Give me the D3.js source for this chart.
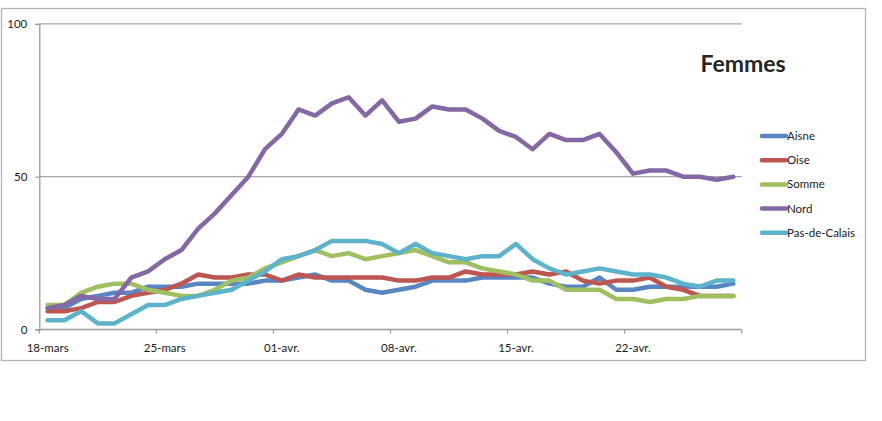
<!DOCTYPE html>
<html>
<head>
<meta charset="utf-8">
<script src="https://cdn.jsdelivr.net/npm/d3@7"></script>
<style>
  body { margin: 0; background: #fff; }
  text { font-family: Lato, "Open Sans", sans-serif; fill: #1a1a1a; }
</style>
</head>
<body>
<div id="chart"></div>
<script>
// categories (one per day)
const dates = [
  "18-mars", "19-mars", "20-mars", "21-mars", "22-mars", "23-mars", "24-mars",
  "25-mars", "26-mars", "27-mars", "28-mars", "29-mars", "30-mars", "31-mars",
  "01-avr.", "02-avr.", "03-avr.", "04-avr.", "05-avr.", "06-avr.", "07-avr.",
  "08-avr.", "09-avr.", "10-avr.", "11-avr.", "12-avr.", "13-avr.", "14-avr.",
  "15-avr.", "16-avr.", "17-avr.", "18-avr.", "19-avr.", "20-avr.", "21-avr.",
  "22-avr.", "23-avr.", "24-avr.", "25-avr.", "26-avr.", "27-avr.", "28-avr."
];

// series values
const aisne = [7, 7, 10, 11, 12, 12, 14, 14, 14, 15, 15, 15, 15, 16, 16, 17, 18, 16, 16, 13, 12,
  13, 14, 16, 16, 16, 17, 17, 17, 17, 15, 14, 14, 17, 13, 13, 14, 14, 14, 14, 14, 15];
const oise = [6, 6, 7, 9, 9, 11, 12, 13, 15, 18, 17, 17, 18, 18, 16, 18, 17, 17, 17, 17, 17,
  16, 16, 17, 17, 19, 18, 18, 18, 19, 18, 19, 16, 15, 16, 16, 17, 14, 13, 11, 11, 11];
const somme = [8, 8, 12, 14, 15, 15, 13, 12, 11, 11, 13, 16, 17, 20, 22, 24, 26, 24, 25, 23, 24,
  25, 26, 24, 22, 22, 20, 19, 18, 16, 16, 13, 13, 13, 10, 10, 9, 10, 10, 11, 11, 11];
const nord = [7, 8, 11, 10, 10, 17, 19, 23, 26, 33, 38, 44, 50, 59, 64, 72, 70, 74, 76, 70, 75,
  68, 69, 73, 72, 72, 69, 65, 63, 59, 64, 62, 62, 64, 58, 51, 52, 52, 50, 50, 49, 50];
const pasDeCalais = [3, 3, 6, 2, 2, 5, 8, 8, 10, 11, 12, 13, 16, 19, 23, 24, 26, 29, 29, 29, 28,
  25, 28, 25, 24, 23, 24, 24, 28, 23, 20, 18, 19, 20, 19, 18, 18, 17, 15, 14, 16, 16];

const seriesNames = ["Aisne", "Oise", "Somme", "Nord", "Pas-de-Calais"];
const yTicks = [0, 50, 100];
const title = "Femmes";

const colors = ["#5886c2", "#bd5550", "#a0bf60", "#8468a6", "#5cb3cb"];
const series = [aisne, oise, somme, nord, pasDeCalais].map((v, k) => ({
  name: seriesNames[k], values: v, color: colors[k]
}));

// layout
const width = 882, height = 421;
const plotLeft = 39.3, plotRight = 741.7, plotTop = 23.9, plotBottom = 329.5;

const svg = d3.select("#chart").append("svg")
  .attr("width", width)
  .attr("height", height);

// outer chart frame
svg.append("rect")
  .attr("x", 1.5).attr("y", 8.5)
  .attr("width", 864).attr("height", 352)
  .attr("fill", "none")
  .attr("stroke", "#b3b3b3")
  .attr("stroke-width", 1.3);

const xScale = d3.scaleBand().domain(dates).range([plotLeft, plotRight]).padding(0);
const yScale = d3.scaleLinear().domain([0, 100]).range([plotBottom, plotTop]);
const cx = d => xScale(d) + xScale.bandwidth() / 2;

// gridlines (50, 100)
svg.append("g")
  .selectAll("line")
  .data(yTicks.filter(t => t > 0))
  .enter()
  .append("line")
  .attr("x1", plotLeft).attr("x2", plotRight)
  .attr("y1", d => yScale(d)).attr("y2", d => yScale(d))
  .attr("stroke", "#a6a6a6")
  .attr("stroke-width", 1.2);

// y axis
let yAxis = d3.axisLeft(yScale).tickValues(yTicks).tickSize(4).tickPadding(8);
let gy = svg.append("g")
  .attr("transform", `translate(${plotLeft},0)`)
  .call(yAxis);
gy.select(".domain").attr("stroke", "#9c9c9c").attr("stroke-width", 1.3);
gy.selectAll(".tick line").attr("stroke", "#9c9c9c").attr("stroke-width", 1.2);
gy.selectAll("text").attr("font-size", 11.5).attr("font-family", "Lato, sans-serif").attr("fill", "#1a1a1a");

// x axis: tick marks between categories every 7 days, labels centred on days
const tickCats = dates.filter((d, i) => i % 7 == 0);
let gx = svg.append("g");
gx.append("line")
  .attr("x1", plotLeft).attr("x2", plotRight)
  .attr("y1", plotBottom).attr("y2", plotBottom)
  .attr("stroke", "#9c9c9c")
  .attr("stroke-width", 1.3);
gx.selectAll(".tk")
  .data(tickCats.map(d => xScale(d)).concat([plotRight]))
  .enter()
  .append("line")
  .attr("class", "tk")
  .attr("x1", d => d).attr("x2", d => d)
  .attr("y1", plotBottom).attr("y2", plotBottom + 4)
  .attr("stroke", "#9c9c9c")
  .attr("stroke-width", 1.2);
gx.selectAll("text")
  .data(tickCats)
  .enter()
  .append("text")
  .attr("x", d => cx(d))
  .attr("y", plotBottom + 22)
  .attr("text-anchor", "middle")
  .attr("font-size", 11.5)
  .text(d => d);

// series lines
let line = d3.line()
  .x((d, i) => cx(dates[i]))
  .y(d => yScale(d));

svg.append("g")
  .selectAll("path")
  .data(series)
  .enter()
  .append("path")
  .attr("d", d => line(d.values))
  .attr("fill", "none")
  .attr("stroke", d => d.color)
  .attr("stroke-width", 4.5)
  .attr("stroke-linejoin", "round")
  .attr("stroke-linecap", "round");

// title
svg.append("text")
  .attr("x", 743)
  .attr("y", 72)
  .attr("text-anchor", "middle")
  .attr("font-size", 23)
  .attr("font-weight", "bold")
  .style("fill", "#262626")
  .text(title);

// legend
let legend = svg.append("g")
  .selectAll("g")
  .data(series)
  .enter()
  .append("g")
  .attr("transform", (d, i) => `translate(761,${136 + i * 24.2})`);
legend.append("line")
  .attr("x1", 1).attr("x2", 25)
  .attr("stroke", d => d.color)
  .attr("stroke-width", 4.5)
  .attr("stroke-linecap", "round");
legend.append("text")
  .attr("x", 26)
  .attr("y", 4)
  .attr("font-size", 11.5)
  .text(d => d.name);
</script>
</body>
</html>
